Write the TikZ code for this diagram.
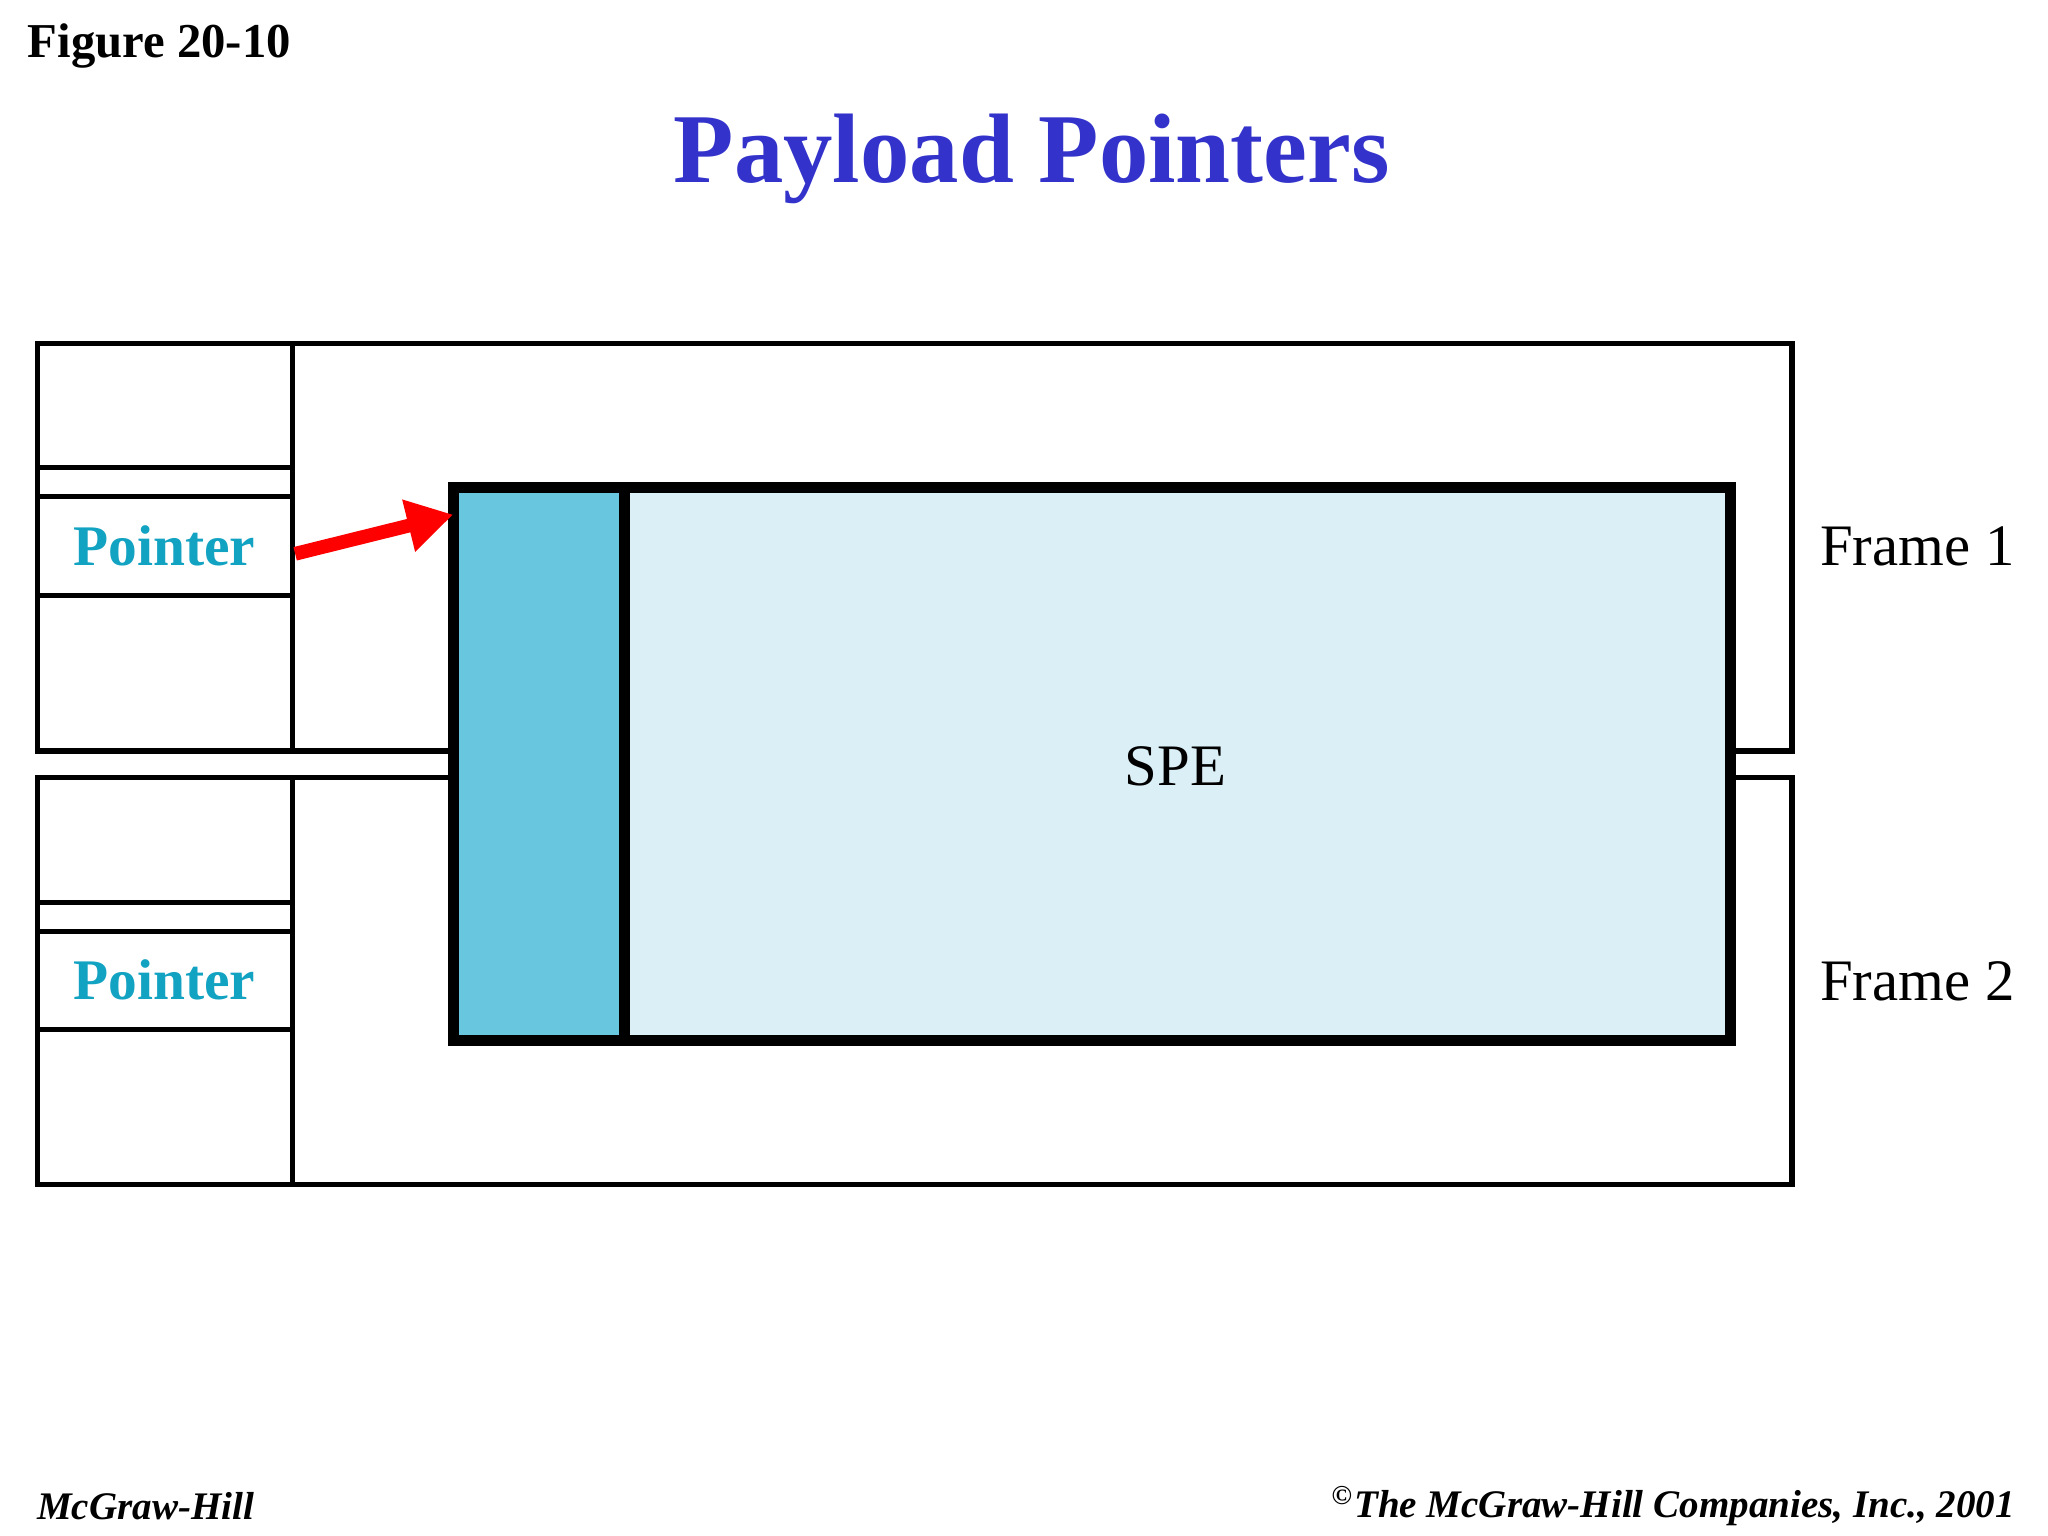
\documentclass[tikz,border=0pt]{standalone}
\usepackage{fontspec}
\usetikzlibrary{arrows.meta}
\setmainfont{Liberation Serif}
\definecolor{ttl}{HTML}{3333CC}
\definecolor{ptr}{HTML}{12A2C2}
\definecolor{spel}{HTML}{DAEFF6}
\definecolor{sped}{HTML}{68C6DE}
\begin{document}
\begin{tikzpicture}[x=0.01cm,y=-0.01cm,
  thinbox/.style={draw,line width=1.1pt},
  ptrtext/.style={font=\fontsize{12.5}{15}\selectfont\bfseries,text=ptr},
  frtext/.style={font=\fontsize{12.8}{15}\selectfont}]
\useasboundingbox[fill=white] (0,0) rectangle (1568,1176);
\node[anchor=west,font=\fontsize{10.6}{13}\selectfont\bfseries] (fig) at (9,35) {Figure 20-10};
\node[font=\fontsize{21.5}{26}\selectfont\bfseries,text=ttl] (title) at (790,122) {Payload Pointers};
% frame 1
\draw[thinbox] (29,263) rectangle (1372,575);
\draw[thinbox] (224,263) -- (224,575);
\foreach \y in {358,380,456} \draw[thinbox] (29,\y) -- (224,\y);
\node[ptrtext] (p1) at (126,418) {Pointer};
% frame 2
\draw[thinbox] (29,595) rectangle (1372,907);
\draw[thinbox] (224,595) -- (224,907);
\foreach \y in {691,713,788} \draw[thinbox] (29,\y) -- (224,\y);
\node[ptrtext] (p2) at (126,750) {Pointer};
% SPE
\draw[line width=2.4pt,fill=spel] (347,373) rectangle (1325,797);
\draw[line width=2.4pt,fill=sped] (347,373) rectangle (478,797);
\node[frtext] (spe) at (900,587) {SPE};
\coordinate (a0) at (226,424);
\coordinate (a1) at (347,394);
\draw[red,line width=3pt,-{Triangle[length=10pt,width=11pt]}] (a0) -- (a1);
\node[frtext] (f1) at (1468,418) {Frame 1};
\node[frtext] (f2) at (1468,751) {Frame 2};
\node[anchor=west,font=\fontsize{8.5}{10}\selectfont\itshape\bfseries] (mh) at (16,1153) {McGraw-Hill};
\node[anchor=east,font=\fontsize{8.5}{10}\selectfont\itshape\bfseries] (cp) at (1555,1153) {\textsuperscript{©}The McGraw-Hill Companies, Inc., 2001};
\end{tikzpicture}
\end{document}
